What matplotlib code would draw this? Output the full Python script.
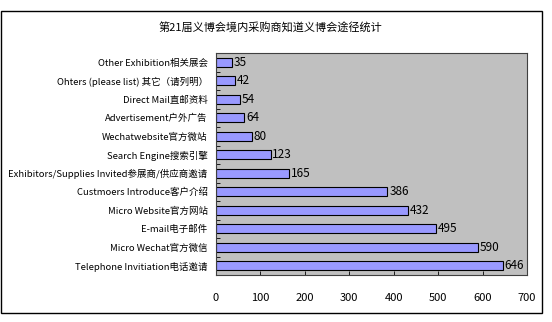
import matplotlib
matplotlib.use("Agg")
import matplotlib.pyplot as plt
from matplotlib.patches import Rectangle
import numpy as np

plt.rcParams['font.family'] = ['Noto Sans CJK SC', 'DejaVu Sans']

title = "第21届义博会境内采购商知道义博会途径统计"
categories = [
    "Other Exhibition相关展会",
    "Ohters (please list) 其它（请列明）",
    "Direct Mail直邮资料",
    "Advertisement户外广告",
    "Wechatwebsite官方微站",
    "Search Engine搜索引擎",
    "Exhibitors/Supplies Invited参展商/供应商邀请",
    "Custmoers Introduce客户介绍",
    "Micro Website官方网站",
    "E-mail电子邮件",
    "Micro Wechat官方微信",
    "Telephone Invitiation电话邀请",
]
values = [35, 42, 54, 64, 80, 123, 165, 386, 432, 495, 590, 646]
xticks = [0, 100, 200, 300, 400, 500, 600, 700]

fig = plt.figure(figsize=(5.52, 3.22), dpi=100)
fig.patch.set_facecolor('white')
# outer chart border
fig.add_artist(Rectangle((1/552, 1 - 313/322), 541/552, 302/322, transform=fig.transFigure,
                         fill=False, edgecolor='black', linewidth=1.0))

ax = fig.add_axes([216/552, 1 - 275/322, 311/552, 222/322])
ax.set_facecolor('#C0C0C0')
y = np.arange(len(categories))
ax.barh(y, values, height=0.5, color='#9999FF', edgecolor='black', linewidth=0.8)
ax.set_xlim(0, 700)
ax.set_ylim(len(categories) - 0.5, -0.5)
ax.set_yticks(y)
ax.set_yticklabels(categories, fontsize=6.8, fontweight='medium')
ax.tick_params(axis='y', length=0, pad=6)
ax.set_yticks(np.arange(-0.5, len(categories), 1), minor=True)
ax.tick_params(axis='y', which='minor', direction='in', length=3, width=0.6)
ax.set_xticks(xticks)
ax.set_xticklabels([str(t) for t in xticks], fontsize=8)
ax.tick_params(axis='x', direction='in', length=3, width=0.6, pad=13)
for s in ax.spines.values():
    s.set_linewidth(0.8)
    s.set_color('#404040')
for yi, v in zip(y, values):
    ax.text(v + 4, yi, str(v), va='center', ha='left', fontsize=8.5)

fig.text(270/552, 1 - 28/322, title, ha='center', va='center', fontsize=8)
fig.savefig('out.png', dpi=100)
